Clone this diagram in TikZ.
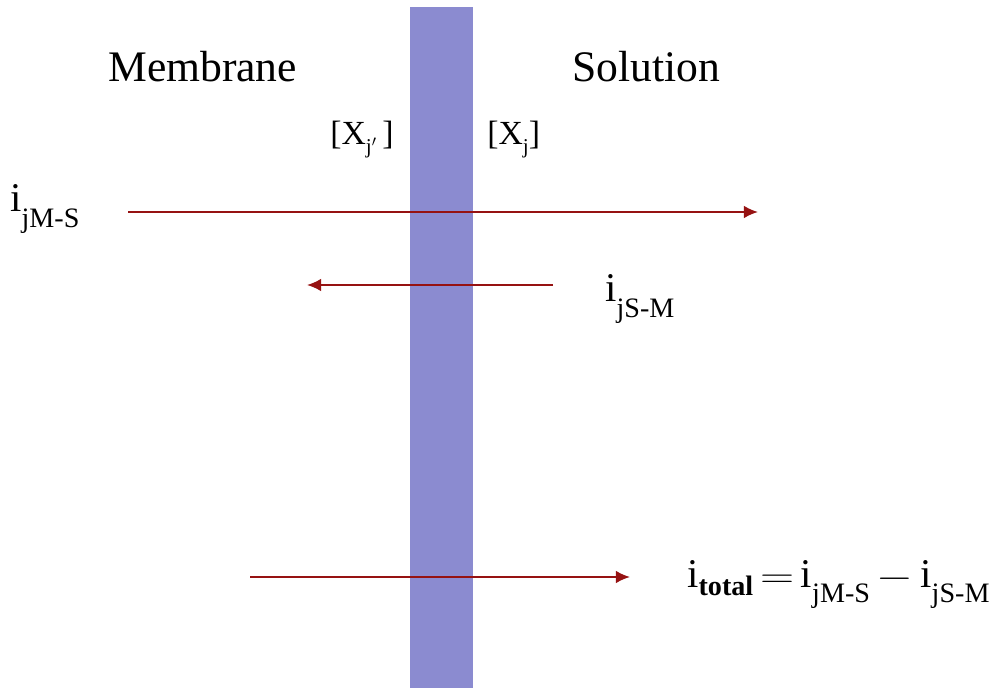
\documentclass[tikz,border=0pt]{standalone}
\usepackage{graphicx}
\usepackage{fontspec}
\setmainfont{Liberation Serif}
\usetikzlibrary{arrows.meta}
\definecolor{bande}{RGB}{139,139,208}
\definecolor{flux}{RGB}{150,18,18}
\tikzset{
  titre/.style={anchor=base west, inner sep=0pt, font=\fontsize{31}{34}\selectfont},
  conc/.style={anchor=base west, inner sep=0pt, font=\fontsize{24}{27}\selectfont},
  courant/.style={anchor=base west, inner sep=0pt, font=\fontsize{29}{32}\selectfont},
  fleche/.style={draw=flux, line width=1.4pt, -{Latex[length=10pt,width=9pt]}}
}
% courant i avec indice abaisse
\newcommand{\icur}[1]{i\raisebox{-11pt}{\fontsize{20}{22}\selectfont #1}}
\newcommand{\itot}[1]{i\raisebox{-6pt}{\fontsize{20}{22}\selectfont\bfseries #1}}
\newcommand{\idx}[1]{\raisebox{-6pt}{\fontsize{15}{17}\selectfont #1}}
\newcommand{\op}[1]{\,\scalebox{1.35}[1]{$#1$}\,}
\begin{document}
\begin{tikzpicture}[x=0.025cm, y=-0.025cm]
    \useasboundingbox (0,0) rectangle (1001,688);
    % La membrane (bande verticale)
    \fill[bande] (410,7) rectangle (473,688);

    % Les titres
    \node[titre] (memb) at (108,82) {Membrane};
    \node[titre] (sol) at (572,82) {Solution};
    \node[conc] (xm) at (330,145) {[X\idx{j$'$}\,]};
    \node[conc] (xs) at (487,145) {[X\idx{j}]};

    % Les extremites des fleches
    \coordinate (A1) at (128,212);
    \coordinate (B1) at (758,212);
    \coordinate (A2) at (553,285);
    \coordinate (B2) at (307,285);
    \coordinate (A3) at (250,577);
    \coordinate (B3) at (630,577);

    % Les courants
    \draw[fleche] (A1) -- (B1);
    \draw[fleche] (A2) -- (B2);
    \draw[fleche] (A3) -- (B3);

    \node[courant] (iMS) at (10,212) {\icur{jM-S}};
    \node[courant] (iSM) at (605,302) {\icur{jS-M}};
    \node[courant] (itotal) at (687,587) {\itot{total}\op{=}\icur{jM-S}\op{-}\icur{jS-M}};
\end{tikzpicture}
\end{document}
